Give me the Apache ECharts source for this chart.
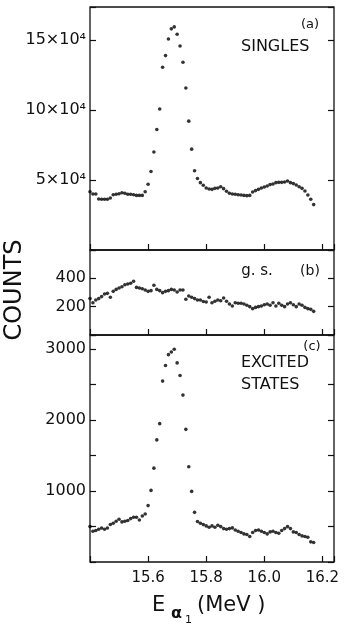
<!DOCTYPE html>
<html><head><meta charset="utf-8">
<script src="https://cdn.jsdelivr.net/npm/echarts@6/dist/echarts.min.js"></script>
<style>html,body{margin:0;padding:0;background:#fff}#c{width:352px;height:624px}</style>
</head><body><div id="c"></div>
<script>
// Alpha-particle energy (MeV) of each channel
const energies = [15.40,15.41,15.42,15.43,15.44,15.45,15.46,15.47,15.48,15.49,
15.50,15.51,15.52,15.53,15.54,15.55,15.56,15.57,15.58,15.59,
15.60,15.61,15.62,15.63,15.64,15.65,15.66,15.67,15.68,15.69,
15.70,15.71,15.72,15.73,15.74,15.75,15.76,15.77,15.78,15.79,
15.80,15.81,15.82,15.83,15.84,15.85,15.86,15.87,15.88,15.89,
15.90,15.91,15.92,15.93,15.94,15.95,15.96,15.97,15.98,15.99,
16.00,16.01,16.02,16.03,16.04,16.05,16.06,16.07,16.08,16.09,
16.10,16.11,16.12,16.13,16.14,16.15,16.16,16.17];

// (a) singles
const singles = [41600,40000,40000,36400,36200,36200,36200,37100,39500,39800,
40200,40900,40500,39800,39800,39500,39000,39000,39000,41600,
46900,56000,70000,86000,100700,130500,138800,150700,157900,159300,
154000,145700,134000,115700,92000,72000,56600,51000,
48100,46200,44300,43500,43300,44000,44300,45200,43800,41900,
40500,40000,39800,39500,39300,39000,38800,39000,41400,42400,
43300,44300,45000,45700,46700,47100,48100,48300,48300,48600,
49300,48100,47400,46400,45200,44000,42100,39300,36200,32400];

// (b) ground state
const groundState = [257,228,247,257,271,289,294,266,308,322,332,341,355,360,365,379,
336,332,327,318,308,313,351,322,313,299,308,313,322,318,304,318,318,
252,275,266,257,247,247,237,233,
266,228,238,247,242,261,238,219,205,228,224,224,219,210,200,186,195,200,205,214,
219,210,228,205,224,210,200,219,228,214,200,219,210,195,186,181,167];

// (c) excited states
const excited = [500,434,443,462,480,462,480,528,546,574,602,565,574,584,612,630,630,593,649,677,
795,1009,1323,1721,1950,2550,2769,2923,2961,2999,2807,2629,2353,1870,1342,995,700,570,
546,527,509,490,509,490,518,499,471,462,471,481,452,434,415,396,387,359,415,443,
452,434,415,396,424,434,415,406,443,471,499,471,424,415,387,368,359,349,284,275];

const xTickLabels = ['15.6','15.8','16.0','16.2'];
const yLabelsA = {50000:'5×10⁴',100000:'10×10⁴',150000:'15×10⁴'};
const yLabelsB = {200:'200',400:'400'};
const yLabelsC = {1000:'1000',2000:'2000',3000:'3000'};

const FONT = '"DejaVu Sans", sans-serif';
const INK = '#111';
const pair = (xs, ys) => xs.map((x,i)=>[x, ys[i]]);

const grids = [
  {left:90, top:7,   width:244, height:243},
  {left:90, top:250, width:244, height:85},
  {left:90, top:335, width:244, height:227}
].map(g => Object.assign({show:true, borderColor:INK, borderWidth:1.3, backgroundColor:'transparent'}, g));

function xAx(i, labels){
  return {type:'value', gridIndex:i, min:15.4, max:16.24, interval:0.2,
    axisLine:{show:false}, splitLine:{show:false},
    axisTick:{show:true, inside:true, length:6, lineStyle:{color:INK, width:1.2}},
    axisLabel:{show:labels, margin:9, color:INK, fontFamily:FONT, fontSize:15,
      formatter:v=>{const s=v.toFixed(1); return (xTickLabels.includes(s)&&Math.abs(v-parseFloat(s))<1e-6)?s:'';}}};
}
function yAx(i, min, max, interval, labels, pos){
  return {type:'value', gridIndex:i, min:min, max:max, interval:interval, position:pos,
    axisLine:{show:false}, splitLine:{show:false},
    axisTick:{show:true, inside:true, length:6, lineStyle:{color:INK, width:1.2}},
    axisLabel:{show:!!labels, margin:4, color:INK, fontFamily:FONT, fontSize:16,
      formatter:v=>(labels&&labels[v])||''}};
}

const dot = {symbol:'circle', symbolSize:3.6, itemStyle:{color:'#000'}, silent:true, animation:false};

const txt = (x,y,text,size,align,extra) => Object.assign({type:'text', x:x, y:y,
  style:{text:text, fill:INK, font:size+'px '+FONT, textAlign:align||'center', textVerticalAlign:'middle'}}, extra||{});

const option = {
  backgroundColor:'#fff',
  animation:false,
  grid:grids,
  xAxis:[xAx(0,false), xAx(1,false), xAx(2,true)],
  yAxis:[
    yAx(0,0,173500,50000,yLabelsA,'left'), yAx(0,0,173500,50000,null,'right'),
    yAx(1,0,600,200,yLabelsB,'left'), yAx(1,0,600,200,null,'right'),
    yAx(2,0,3200,500,yLabelsC,'left'), yAx(2,0,3200,500,null,'right')
  ],
  series:[
    Object.assign({type:'scatter', xAxisIndex:0, yAxisIndex:0, data:pair(energies, singles)}, dot),
    Object.assign({type:'scatter', xAxisIndex:1, yAxisIndex:2, data:pair(energies, groundState)}, dot),
    Object.assign({type:'scatter', xAxisIndex:2, yAxisIndex:4, data:pair(energies, excited)}, dot)
  ],
  graphic:[
    txt(310,25,'(a)',13),
    txt(241,47,'SINGLES',16,'left'),
    txt(257,271,'g. s.',15),
    txt(310,271,'(b)',14),
    txt(312,347,'(c)',13),
    txt(241,363,'EXCITED',16,'left'),
    txt(241,385,'STATES',16,'left'),
    txt(15,290,'COUNTS',24,'center',{rotation:Math.PI/2}),
    txt(152,606,'E',21,'left'),
    {type:'text', x:171, y:614, style:{text:'α', fill:INK, font:'bold 16px '+FONT, textAlign:'left', textVerticalAlign:'middle'}},
    txt(185,620,'1',11,'left'),
    txt(197,606,'(MeV )',21,'left')
  ]
};
const chart = echarts.init(document.getElementById('c'), null, {renderer:'canvas'});
chart.setOption(option);
</script>
</body></html>
